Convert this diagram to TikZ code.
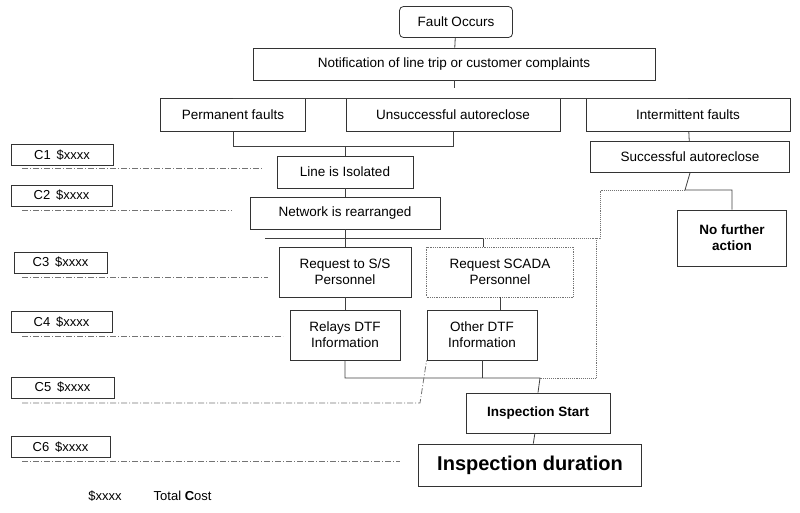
\documentclass[tikz,border=0pt]{standalone}
\usepackage{fontspec}
\setmainfont{Liberation Sans}
\begin{document}
\begin{tikzpicture}[x=1pt,y=-1pt,
 bx/.style={draw=black!80,line width=0.8pt,minimum height=32pt,inner sep=2pt,font=\fontsize{13.5}{16}\selectfont,align=center},
 tall/.style={bx,minimum height=50pt},
 cb/.style={draw=black!80,line width=0.8pt,minimum height=21pt,inner sep=1pt,font=\fontsize{13}{15}\selectfont},
 ln/.style={draw=black!75,line width=0.8pt},
 dl/.style={draw=black!55,line width=0.9pt,densely dotted},
 dd/.style={draw=black!55,line width=0.8pt,dash pattern=on 6pt off 2pt on 1pt off 2pt}]
\useasboundingbox (0,0) rectangle (800,512);
\node[bx,rounded corners=4pt,minimum width=113pt,minimum height=31pt] (fo) at (456,22) {Fault Occurs};
\node[bx,minimum width=402pt] (no) at (454,64) {Notification of line trip or customer complaints};
\node[bx,minimum width=145pt,minimum height=33pt] (pf) at (233,115) {Permanent faults};
\node[bx,minimum width=214pt,minimum height=33pt] (ua) at (453,115) {Unsuccessful autoreclose};
\node[bx,minimum width=204pt,minimum height=33pt] (if) at (688,115) {Intermittent faults};
\node[bx,minimum width=199pt,minimum height=31pt] (sa) at (690,157) {Successful autoreclose};
\node[bx,minimum width=136pt] (li) at (345,172) {Line is Isolated};
\node[bx,minimum width=190pt] (nr) at (345,213) {Network is rearranged};
\node[tall,minimum width=132pt] (ss) at (345,272) {Request to S/S\\Personnel};
\node[tall,minimum width=147pt,draw=black!55,densely dotted,line width=0.9pt] (sc) at (500,272) {Request SCADA\\Personnel};
\node[tall,minimum width=110pt] (rd) at (345,335) {Relays DTF\\Information};
\node[tall,minimum width=110pt] (od) at (482,335) {Other DTF\\Information};
\node[tall,minimum width=109pt,minimum height=56pt,font=\fontsize{13.5}{16}\selectfont\bfseries] (nf) at (732,238) {No further\\action};
\node[bx,minimum width=144pt,minimum height=40pt,font=\fontsize{13.5}{16}\selectfont\bfseries] (is) at (538,413) {Inspection Start};
\node[bx,minimum width=223pt,minimum height=42pt,font=\fontsize{20}{24}\selectfont\bfseries] (id) at (530,465) {Inspection duration};
% tree
\draw[ln] (fo) -- (no);
\draw[ln] (no.south) -- (454,88);
\draw[ln] (pf.north) |- (if.north);
\draw[ln] (pf.south) |- (453,146) -- (ua.south);
\draw[ln] (345,146) -- (li.north);
\draw[ln] (li) -- (nr);
\draw[ln] (nr.south) -- (345,238);
\draw[ln] (265,238) -- (483,238) -- (483,247);
\draw[ln] (345,238) -- (ss.north);
\draw[ln] (if) -- (sa);
\draw[ln] (sa.south) -- (685,190) -| (nf.north);
\draw[ln] (ss) -- (rd);
\draw[ln] (500,297) -- (500,310);
\draw[ln] (rd.south) |- (540,378) -- (is.north);
\draw[ln] (od.south) -- (482,378);
\draw[ln] (is) -- (id);
\draw[dl] (685,190) -- (600,190) -- (600,238) -- (483,238);
\draw[dl] (596,238) -- (596,378) -- (540,378);
% cost labels
\node[cb,minimum width=102pt] (c1) at (62,155) {C1\,\ \$xxxx};
\node[cb,minimum width=101pt] (c2) at (61.5,195.5) {C2\,\ \$xxxx};
\node[cb,minimum width=93pt] (c3) at (60.5,262.5) {C3\,\ \$xxxx};
\node[cb,minimum width=101pt] (c4) at (61.5,322) {C4\,\ \$xxxx};
\node[cb,minimum width=103pt] (c5) at (62.5,387.5) {C5\,\ \$xxxx};
\node[cb,minimum width=99pt] (c6) at (60.5,447) {C6\,\ \$xxxx};
\coordinate (e1) at (263,168);
\coordinate (e2) at (232,210);
\coordinate (e3) at (268,277);
\coordinate (e4) at (283,336);
\coordinate (e5) at (420,403);
\coordinate (e6) at (400,461);
\draw[dd] (22,168) -- (e1);
\draw[dd] (22,210) -- (e2);
\draw[dd] (22,277) -- (e3);
\draw[dd] (22,336) -- (e4);
\draw[dd] (22,403) -- (e5) -- (od.south west);
\draw[dd] (22,461) -- (e6);
\node[font=\fontsize{13}{15}\selectfont] (tc) at (150,496) {\$xxxx\hspace{32pt}Total \textbf{C}ost};
\end{tikzpicture}
\end{document}
